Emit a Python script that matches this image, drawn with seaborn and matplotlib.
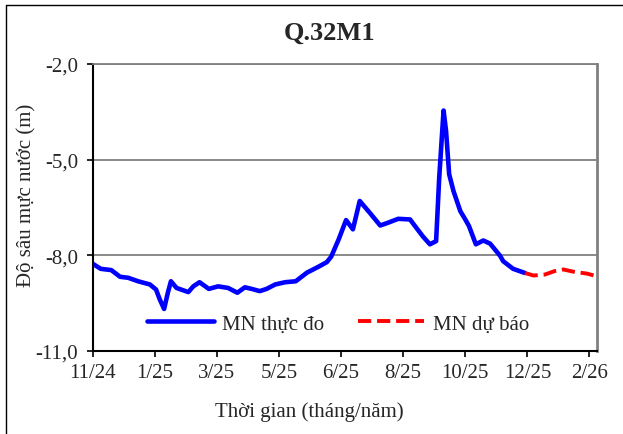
import matplotlib
matplotlib.use("Agg")
import matplotlib.pyplot as plt
import seaborn as sns
import pandas as pd
from matplotlib.lines import Line2D

# ---- data (x in tick-interval units, y = water depth in m) ----
title = "Q.32M1"
tick_labels = ["11/24", "1/25", "3/25", "5/25", "6/25", "8/25", "10/25", "12/25", "2/26"]
y_ticks = [-11.0, -8.0, -5.0, -2.0]

obs_x = [0.00, 0.13, 0.30, 0.44, 0.57, 0.73, 0.92, 1.02, 1.08, 1.15, 1.21, 1.26,
         1.35, 1.54, 1.62, 1.72, 1.87, 2.02, 2.18, 2.33, 2.45, 2.56, 2.69, 2.80,
         2.94, 3.10, 3.27, 3.45, 3.63, 3.77, 3.84, 3.96, 4.08, 4.19, 4.30, 4.47,
         4.63, 4.76, 4.92, 5.11, 5.23, 5.32, 5.43, 5.53, 5.58, 5.65, 5.69, 5.74,
         5.81, 5.92, 6.00, 6.06, 6.17, 6.29, 6.40, 6.56, 6.61, 6.77, 6.96]
obs_y = [-8.27, -8.43, -8.47, -8.68, -8.71, -8.82, -8.92, -9.08, -9.39, -9.69, -9.18, -8.82,
         -9.03, -9.16, -8.98, -8.85, -9.06, -8.98, -9.03, -9.18, -9.01, -9.06, -9.13, -9.06,
         -8.92, -8.85, -8.82, -8.55, -8.37, -8.22, -8.05, -7.51, -6.90, -7.19, -6.30, -6.69,
         -7.07, -6.98, -6.86, -6.88, -7.19, -7.42, -7.66, -7.56, -5.57, -3.46, -4.10, -5.46,
         -5.99, -6.62, -6.88, -7.09, -7.66, -7.54, -7.64, -8.02, -8.19, -8.43, -8.56]

fc_x = [6.96, 7.10, 7.28, 7.44, 7.58, 7.74, 7.96, 8.11]
fc_y = [-8.56, -8.64, -8.61, -8.50, -8.45, -8.52, -8.58, -8.66]

obs_label = "MN thực đo"
fc_label = "MN dự báo"

# ---- style ----
sns.set_style("white")
plt.rcParams['font.family'] = ['Liberation Serif', 'DejaVu Serif']
plt.rcParams['axes.unicode_minus'] = False

W, H = 623, 435
fig = plt.figure(figsize=(W / 100, H / 100), dpi=100)
ax = fig.add_axes([92.7 / W, 1 - 351.7 / H, (596.7 - 92.7) / W, (351.7 - 65) / H])

obs = pd.DataFrame({"t": obs_x, "h": obs_y})
fc = pd.DataFrame({"t": fc_x, "h": fc_y})
sns.lineplot(data=obs, x="t", y="h", ax=ax, color="#0000FF", linewidth=3.3,
             sort=False, estimator=None, label=obs_label)
sns.lineplot(data=fc, x="t", y="h", ax=ax, color="#FF0000", linewidth=2.8,
             sort=False, estimator=None, label=fc_label)
ax.lines[-1].set_linestyle((0, (3.4, 1.5)))
for ln in ax.lines:
    ln.set_solid_capstyle("round")
    ln.set_solid_joinstyle("round")
    ln.set_dash_joinstyle("round")

ax.set_xlim(0, 8.116)
ax.set_ylim(-11, -2)
ax.set_xticks(range(len(tick_labels)))
ax.set_xticklabels(tick_labels)
ax.set_yticks(y_ticks)
ax.set_yticklabels([f"{v:.1f}".replace(".", ",") for v in y_ticks])
ax.set_xlabel("")
ax.set_ylabel("")

ax.yaxis.grid(True, color="#808080", linewidth=1.3)
ax.xaxis.grid(False)
ax.set_axisbelow(True)

for s in ["left", "bottom"]:
    ax.spines[s].set_color("black")
    ax.spines[s].set_linewidth(1.5)
ax.spines["top"].set_color("#808080")
ax.spines["top"].set_linewidth(1.3)
ax.spines["right"].set_color("#808080")
ax.spines["right"].set_linewidth(2.0)

ax.tick_params(axis="both", which="major", direction="out", length=4.5, width=1.2,
               color="black", labelsize=15, bottom=True, left=True)
ax.tick_params(axis="y", pad=6)
ax.tick_params(axis="x", pad=4)

leg = ax.legend(loc="center", bbox_to_anchor=(338 / W, 1 - 325 / H),
                bbox_transform=fig.transFigure, ncol=2, frameon=False, fontsize=15,
                handlelength=3.2, handletextpad=0.4, columnspacing=1.6)

# ---- texts ----
fig.text(330 / W, 1 - 33 / H, title, ha="center", va="center", fontsize=19, fontweight="bold")
fig.text(27 / W, 1 - 195 / H, "Độ sâu mực nước (m)", rotation=90, ha="center", va="center",
         fontsize=15)
fig.text(309 / W, 1 - 412 / H, "Thời gian (tháng/năm)", ha="center", va="center", fontsize=15)

# outer frame (left and top edges)
fig.add_artist(Line2D([5.5 / W, 5.5 / W], [0, 1 - 6 / H], transform=fig.transFigure,
                      color="black", linewidth=1.0))
fig.add_artist(Line2D([5.5 / W, 1], [1 - 6 / H, 1 - 6 / H], transform=fig.transFigure,
                      color="black", linewidth=1.0))

fig.savefig("out.png", dpi=100)
